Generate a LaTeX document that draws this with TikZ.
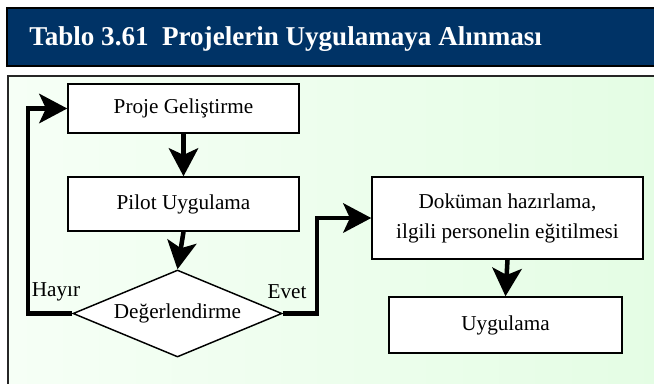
\documentclass[tikz,border=0pt]{standalone}
\usepackage{fontspec}
\setmainfont{Liberation Serif}
\usetikzlibrary{arrows.meta,shapes.geometric}
\definecolor{headblue}{RGB}{0,51,102}
\definecolor{panelleft}{RGB}{246,255,246}
\definecolor{panelright}{RGB}{228,253,228}
\tikzset{
  stepbox/.style={draw=black, fill=white, line width=1.1pt, inner sep=0pt,
    align=center, font=\fontsize{15.9}{22.5}\selectfont},
  decision/.style={diamond, aspect=2.4, draw=black, fill=white, line width=1.1pt, inner sep=0pt,
    font=\fontsize{15.9}{19}\selectfont},
  flow/.style={line width=3.4pt, -{Stealth[length=21pt,width=22pt,inset=5pt]}},
  branch/.style={font=\fontsize{15.9}{19}\selectfont}
}
\begin{document}
\begin{tikzpicture}[x=0.75pt,y=-0.75pt]
\useasboundingbox (0,0) rectangle (654,383);
\fill[white] (0,0) rectangle (654,383);
% title bar
\draw[fill=headblue, line width=1.5pt] (7,8) rectangle (662,66);
\node[anchor=base west, text=white, inner sep=0pt] (title) at (29,45)
  {\scalebox{0.995}[1]{\fontsize{20.4}{24}\selectfont\bfseries Tablo 3.61\ \ Projelerin Uygulamaya Alınması}};
% flowchart panel
\shade[left color=panelleft, right color=panelright] (8,76) rectangle (662,392);
\draw[line width=1.4pt, draw=black!85] (8,392) -- (8,76) -- (662,76);
% steps
\node[stepbox, minimum width=173.25pt, minimum height=36.75pt] (proje) at (183.5,108.5) {Proje Geliştirme};
\node[stepbox, minimum width=173.25pt, minimum height=40.5pt] (pilot) at (183.5,204) {Pilot Uygulama};
\node[decision, minimum width=156.75pt, minimum height=65.25pt] (deger) at (177.5,313.5) {\raisebox{3pt}{Değerlendirme}};
\node[stepbox, minimum width=203.25pt, minimum height=61.5pt] (dokuman) at (507.5,218) {Doküman hazırlama,\\ilgili personelin eğitilmesi};
\node[stepbox, minimum width=174.75pt, minimum height=42pt] (uygulama) at (505.5,325) {Uygulama};
% loop-back and forward route columns
\coordinate (hx) at (28,0);
\coordinate (ex) at (317,0);
% connectors
\draw[flow] (proje.south) -- (pilot.north);
\draw[flow] (pilot.south) -- (deger.north);
\draw[flow] (deger.west) -- (deger.west -| hx) |- (proje.west);
\draw[flow] (deger.east) -- (deger.east -| ex) |- (dokuman.west);
\draw[flow] (dokuman.south) -- (uygulama.north);
% branch labels
\node[branch] (hayir) at (56,292) {Hayır};
\node[branch] (evet) at (287,292) {Evet};
\end{tikzpicture}
\end{document}
